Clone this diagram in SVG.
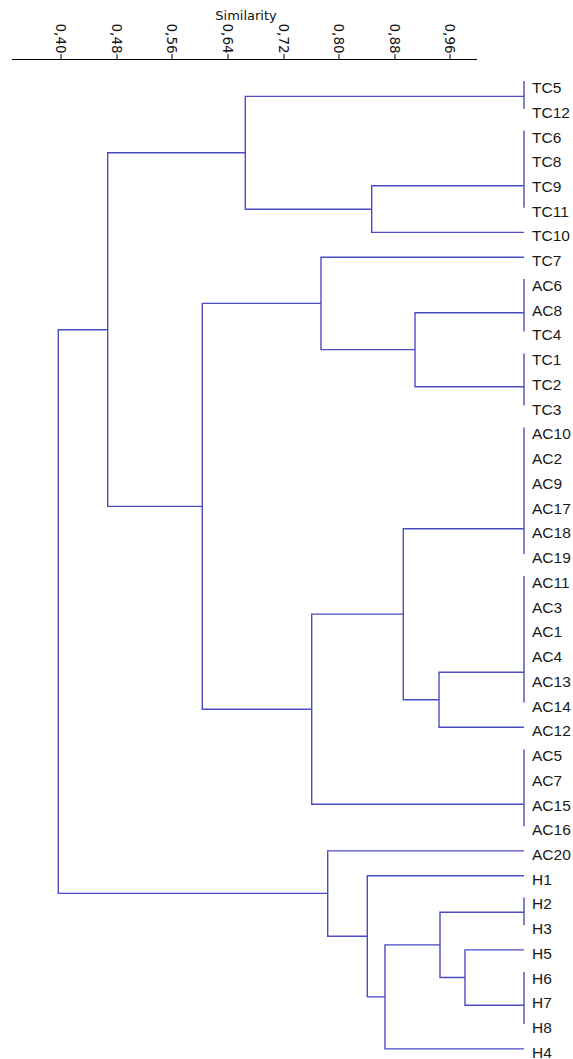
<svg xmlns="http://www.w3.org/2000/svg" width="573" height="1059" viewBox="0 0 573 1059">
<style>
.ax{stroke:#000;stroke-width:1;fill:none}
.tt{font-family:"DejaVu Sans",Verdana,sans-serif;font-size:13px;fill:#111}
.tl{font-family:"DejaVu Sans",Verdana,sans-serif;font-size:13.5px;fill:#111}
.lf{font-family:"Liberation Sans",Arial,sans-serif;font-size:15.5px;fill:#1a1a1a}
.br{stroke:#4b4bc6;stroke-width:1.4;fill:none}
</style>
<rect width="573" height="1059" fill="#fff"/>
<g id="axis">
<text class="tt" x="246" y="19.5" text-anchor="middle">Similarity</text>
<line class="ax" x1="12" y1="59.5" x2="477" y2="59.5"/>
<g class="ax">
<line x1="61" y1="54" x2="61" y2="59.5"/>
<line x1="117" y1="54" x2="117" y2="59.5"/>
<line x1="172" y1="54" x2="172" y2="59.5"/>
<line x1="228" y1="54" x2="228" y2="59.5"/>
<line x1="284" y1="54" x2="284" y2="59.5"/>
<line x1="339" y1="54" x2="339" y2="59.5"/>
<line x1="395" y1="54" x2="395" y2="59.5"/>
<line x1="450" y1="54" x2="450" y2="59.5"/>
</g>
<text class="tl" transform="translate(61,23.5) rotate(90)" y="4.9">0,40</text>
<text class="tl" transform="translate(117,23.5) rotate(90)" y="4.9">0,48</text>
<text class="tl" transform="translate(172,23.5) rotate(90)" y="4.9">0,56</text>
<text class="tl" transform="translate(228,23.5) rotate(90)" y="4.9">0,64</text>
<text class="tl" transform="translate(284,23.5) rotate(90)" y="4.9">0,72</text>
<text class="tl" transform="translate(339,23.5) rotate(90)" y="4.9">0,80</text>
<text class="tl" transform="translate(395,23.5) rotate(90)" y="4.9">0,88</text>
<text class="tl" transform="translate(450,23.5) rotate(90)" y="4.9">0,96</text>
</g>
<g id="connectors" class="br">
<path d="M524 81 V108.7"/>
<path d="M524 130.5 V207.7"/>
<path d="M524 279 V331.4"/>
<path d="M524 353.5 V405.6"/>
<path d="M524 427.5 V554.1"/>
<path d="M524 576 V702.5"/>
<path d="M524 749.5 V826.2"/>
<path d="M524 897.5 V925.2"/>
<path d="M524 972 V1024.1"/>
<path d="M524 96.4 H245.3 V209.2 H371.7"/>
<path d="M524 185.8 H371.7 V232.4 H524"/>
<path d="M245.3 152.8 H107.7 V506.4 H202.3"/>
<path d="M321 303.4 H202.3 V709.2 H311.7"/>
<path d="M524 257.2 H321 V349.6 H415"/>
<path d="M524 312.7 H415 V386.7 H524"/>
<path d="M403.3 614.1 H311.7 V804.3 H524"/>
<path d="M524 528.7 H403.3 V699.7 H439"/>
<path d="M524 672.3 H439 V727.2 H524"/>
<path d="M107.7 329.7 H58.3 V893.4 H327.7"/>
<path d="M524 850.9 H327.7 V936.2 H367.3"/>
<path d="M524 875.7 H367.3 V996.9 H385"/>
<path d="M440 944.9 H385 V1048.9 H524"/>
<path d="M524 912.3 H440 V977.5 H465"/>
<path d="M524 949.9 H465 V1005.2 H524"/>
</g>
<g id="leaf-TC5"><text class="lf" x="532" y="93">TC5</text></g>
<g id="leaf-TC12"><text class="lf" x="532" y="117.7">TC12</text></g>
<g id="leaf-TC6"><text class="lf" x="532" y="142.5">TC6</text></g>
<g id="leaf-TC8"><text class="lf" x="532" y="167.2">TC8</text></g>
<g id="leaf-TC9"><text class="lf" x="532" y="192">TC9</text></g>
<g id="leaf-TC11"><text class="lf" x="532" y="216.7">TC11</text></g>
<g id="leaf-TC10"><text class="lf" x="532" y="241.4">TC10</text></g>
<g id="leaf-TC7"><text class="lf" x="532" y="266.2">TC7</text></g>
<g id="leaf-AC6"><text class="lf" x="532" y="290.9">AC6</text></g>
<g id="leaf-AC8"><text class="lf" x="532" y="315.7">AC8</text></g>
<g id="leaf-TC4"><text class="lf" x="532" y="340.4">TC4</text></g>
<g id="leaf-TC1"><text class="lf" x="532" y="365.1">TC1</text></g>
<g id="leaf-TC2"><text class="lf" x="532" y="389.9">TC2</text></g>
<g id="leaf-TC3"><text class="lf" x="532" y="414.6">TC3</text></g>
<g id="leaf-AC10"><text class="lf" x="532" y="439.4">AC10</text></g>
<g id="leaf-AC2"><text class="lf" x="532" y="464.1">AC2</text></g>
<g id="leaf-AC9"><text class="lf" x="532" y="488.8">AC9</text></g>
<g id="leaf-AC17"><text class="lf" x="532" y="513.6">AC17</text></g>
<g id="leaf-AC18"><text class="lf" x="532" y="538.3">AC18</text></g>
<g id="leaf-AC19"><text class="lf" x="532" y="563.1">AC19</text></g>
<g id="leaf-AC11"><text class="lf" x="532" y="587.8">AC11</text></g>
<g id="leaf-AC3"><text class="lf" x="532" y="612.5">AC3</text></g>
<g id="leaf-AC1"><text class="lf" x="532" y="637.3">AC1</text></g>
<g id="leaf-AC4"><text class="lf" x="532" y="662">AC4</text></g>
<g id="leaf-AC13"><text class="lf" x="532" y="686.8">AC13</text></g>
<g id="leaf-AC14"><text class="lf" x="532" y="711.5">AC14</text></g>
<g id="leaf-AC12"><text class="lf" x="532" y="736.2">AC12</text></g>
<g id="leaf-AC5"><text class="lf" x="532" y="761">AC5</text></g>
<g id="leaf-AC7"><text class="lf" x="532" y="785.7">AC7</text></g>
<g id="leaf-AC15"><text class="lf" x="532" y="810.5">AC15</text></g>
<g id="leaf-AC16"><text class="lf" x="532" y="835.2">AC16</text></g>
<g id="leaf-AC20"><text class="lf" x="532" y="859.9">AC20</text></g>
<g id="leaf-H1"><text class="lf" x="532" y="884.7">H1</text></g>
<g id="leaf-H2"><text class="lf" x="532" y="909.4">H2</text></g>
<g id="leaf-H3"><text class="lf" x="532" y="934.2">H3</text></g>
<g id="leaf-H5"><text class="lf" x="532" y="958.9">H5</text></g>
<g id="leaf-H6"><text class="lf" x="532" y="983.6">H6</text></g>
<g id="leaf-H7"><text class="lf" x="532" y="1008.4">H7</text></g>
<g id="leaf-H8"><text class="lf" x="532" y="1033.1">H8</text></g>
<g id="leaf-H4"><text class="lf" x="532" y="1057.9">H4</text></g>
</svg>
